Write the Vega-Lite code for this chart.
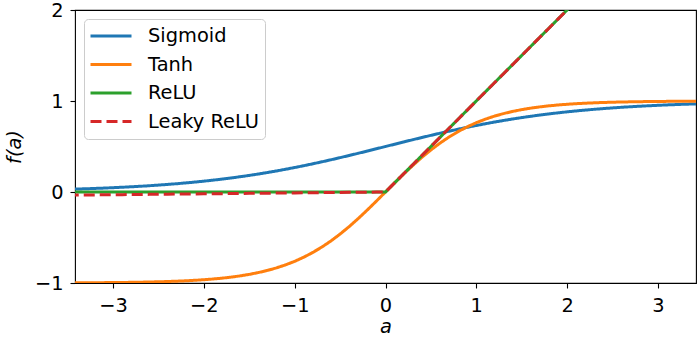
{
  "$schema": "https://vega.github.io/schema/vega-lite/v6.json",
  "width": 621,
  "height": 273,
  "autosize": {"type": "none"},
  "padding": {"left": 75, "top": 10, "right": 1, "bottom": 55},
  "background": "white",
  "config": {
    "font": "DejaVu Sans",
    "view": {"stroke": "black", "strokeWidth": 1.1},
    "axis": {
      "grid": false,
      "domain": false,
      "tickColor": "black",
      "tickSize": 5,
      "tickWidth": 1.1,
      "labelColor": "black",
      "labelFontSize": 19.4,
      "titleColor": "black",
      "titleFontSize": 19.4,
      "titleFontWeight": "normal",
      "titleFontStyle": "italic"
    },
    "legend": {
      "orient": "none",
      "legendX": 9,
      "legendY": 9,
      "padding": 5,
      "fillColor": "rgba(255,255,255,0.8)",
      "strokeColor": "#cccccc",
      "cornerRadius": 4,
      "labelFontSize": 19.4,
      "labelColor": "black",
      "labelOffset": 15,
      "symbolType": "stroke",
      "symbolSize": 1681,
      "symbolOffset": 0,
      "symbolStrokeWidth": 3,
      "clipHeight": 24,
      "rowPadding": 4.5
    }
  },
  "data": {
    "values": [
      {"a": -3.5, "Sigmoid": 0.02931, "Tanh": -0.99818, "ReLU": 0, "Leaky ReLU": -0.035},
      {"a": -3.4, "Sigmoid": 0.0323, "Tanh": -0.99777, "ReLU": 0, "Leaky ReLU": -0.034},
      {"a": -3.3, "Sigmoid": 0.03557, "Tanh": -0.99728, "ReLU": 0, "Leaky ReLU": -0.033},
      {"a": -3.2, "Sigmoid": 0.03917, "Tanh": -0.99668, "ReLU": 0, "Leaky ReLU": -0.032},
      {"a": -3.1, "Sigmoid": 0.04311, "Tanh": -0.99595, "ReLU": 0, "Leaky ReLU": -0.031},
      {"a": -3.0, "Sigmoid": 0.04743, "Tanh": -0.99505, "ReLU": 0, "Leaky ReLU": -0.03},
      {"a": -2.9, "Sigmoid": 0.05216, "Tanh": -0.99396, "ReLU": 0, "Leaky ReLU": -0.029},
      {"a": -2.8, "Sigmoid": 0.05733, "Tanh": -0.99263, "ReLU": 0, "Leaky ReLU": -0.028},
      {"a": -2.7, "Sigmoid": 0.06297, "Tanh": -0.99101, "ReLU": 0, "Leaky ReLU": -0.027},
      {"a": -2.6, "Sigmoid": 0.06914, "Tanh": -0.98903, "ReLU": 0, "Leaky ReLU": -0.026},
      {"a": -2.5, "Sigmoid": 0.07586, "Tanh": -0.98661, "ReLU": 0, "Leaky ReLU": -0.025},
      {"a": -2.4, "Sigmoid": 0.08317, "Tanh": -0.98367, "ReLU": 0, "Leaky ReLU": -0.024},
      {"a": -2.3, "Sigmoid": 0.09112, "Tanh": -0.9801, "ReLU": 0, "Leaky ReLU": -0.023},
      {"a": -2.2, "Sigmoid": 0.09975, "Tanh": -0.97574, "ReLU": 0, "Leaky ReLU": -0.022},
      {"a": -2.1, "Sigmoid": 0.1091, "Tanh": -0.97045, "ReLU": 0, "Leaky ReLU": -0.021},
      {"a": -2.0, "Sigmoid": 0.1192, "Tanh": -0.96403, "ReLU": 0, "Leaky ReLU": -0.02},
      {"a": -1.9, "Sigmoid": 0.13011, "Tanh": -0.95624, "ReLU": 0, "Leaky ReLU": -0.019},
      {"a": -1.8, "Sigmoid": 0.14185, "Tanh": -0.94681, "ReLU": 0, "Leaky ReLU": -0.018},
      {"a": -1.7, "Sigmoid": 0.15447, "Tanh": -0.93541, "ReLU": 0, "Leaky ReLU": -0.017},
      {"a": -1.6, "Sigmoid": 0.16798, "Tanh": -0.92167, "ReLU": 0, "Leaky ReLU": -0.016},
      {"a": -1.5, "Sigmoid": 0.18243, "Tanh": -0.90515, "ReLU": 0, "Leaky ReLU": -0.015},
      {"a": -1.4, "Sigmoid": 0.19782, "Tanh": -0.88535, "ReLU": 0, "Leaky ReLU": -0.014},
      {"a": -1.3, "Sigmoid": 0.21417, "Tanh": -0.86172, "ReLU": 0, "Leaky ReLU": -0.013},
      {"a": -1.2, "Sigmoid": 0.23148, "Tanh": -0.83365, "ReLU": 0, "Leaky ReLU": -0.012},
      {"a": -1.1, "Sigmoid": 0.24974, "Tanh": -0.8005, "ReLU": 0, "Leaky ReLU": -0.011},
      {"a": -1.0, "Sigmoid": 0.26894, "Tanh": -0.76159, "ReLU": 0, "Leaky ReLU": -0.01},
      {"a": -0.9, "Sigmoid": 0.28905, "Tanh": -0.7163, "ReLU": 0, "Leaky ReLU": -0.009},
      {"a": -0.8, "Sigmoid": 0.31003, "Tanh": -0.66404, "ReLU": 0, "Leaky ReLU": -0.008},
      {"a": -0.7, "Sigmoid": 0.33181, "Tanh": -0.60437, "ReLU": 0, "Leaky ReLU": -0.007},
      {"a": -0.6, "Sigmoid": 0.35434, "Tanh": -0.53705, "ReLU": 0, "Leaky ReLU": -0.006},
      {"a": -0.5, "Sigmoid": 0.37754, "Tanh": -0.46212, "ReLU": 0, "Leaky ReLU": -0.005},
      {"a": -0.4, "Sigmoid": 0.40131, "Tanh": -0.37995, "ReLU": 0, "Leaky ReLU": -0.004},
      {"a": -0.3, "Sigmoid": 0.42556, "Tanh": -0.29131, "ReLU": 0, "Leaky ReLU": -0.003},
      {"a": -0.2, "Sigmoid": 0.45017, "Tanh": -0.19738, "ReLU": 0, "Leaky ReLU": -0.002},
      {"a": -0.1, "Sigmoid": 0.47502, "Tanh": -0.09967, "ReLU": 0, "Leaky ReLU": -0.001},
      {"a": 0.0, "Sigmoid": 0.5, "Tanh": 0, "ReLU": 0, "Leaky ReLU": 0},
      {"a": 0.1, "Sigmoid": 0.52498, "Tanh": 0.09967, "ReLU": 0.1, "Leaky ReLU": 0.1},
      {"a": 0.2, "Sigmoid": 0.54983, "Tanh": 0.19738, "ReLU": 0.2, "Leaky ReLU": 0.2},
      {"a": 0.3, "Sigmoid": 0.57444, "Tanh": 0.29131, "ReLU": 0.3, "Leaky ReLU": 0.3},
      {"a": 0.4, "Sigmoid": 0.59869, "Tanh": 0.37995, "ReLU": 0.4, "Leaky ReLU": 0.4},
      {"a": 0.5, "Sigmoid": 0.62246, "Tanh": 0.46212, "ReLU": 0.5, "Leaky ReLU": 0.5},
      {"a": 0.6, "Sigmoid": 0.64566, "Tanh": 0.53705, "ReLU": 0.6, "Leaky ReLU": 0.6},
      {"a": 0.7, "Sigmoid": 0.66819, "Tanh": 0.60437, "ReLU": 0.7, "Leaky ReLU": 0.7},
      {"a": 0.8, "Sigmoid": 0.68997, "Tanh": 0.66404, "ReLU": 0.8, "Leaky ReLU": 0.8},
      {"a": 0.9, "Sigmoid": 0.71095, "Tanh": 0.7163, "ReLU": 0.9, "Leaky ReLU": 0.9},
      {"a": 1.0, "Sigmoid": 0.73106, "Tanh": 0.76159, "ReLU": 1.0, "Leaky ReLU": 1.0},
      {"a": 1.1, "Sigmoid": 0.75026, "Tanh": 0.8005, "ReLU": 1.1, "Leaky ReLU": 1.1},
      {"a": 1.2, "Sigmoid": 0.76852, "Tanh": 0.83365, "ReLU": 1.2, "Leaky ReLU": 1.2},
      {"a": 1.3, "Sigmoid": 0.78583, "Tanh": 0.86172, "ReLU": 1.3, "Leaky ReLU": 1.3},
      {"a": 1.4, "Sigmoid": 0.80218, "Tanh": 0.88535, "ReLU": 1.4, "Leaky ReLU": 1.4},
      {"a": 1.5, "Sigmoid": 0.81757, "Tanh": 0.90515, "ReLU": 1.5, "Leaky ReLU": 1.5},
      {"a": 1.6, "Sigmoid": 0.83202, "Tanh": 0.92167, "ReLU": 1.6, "Leaky ReLU": 1.6},
      {"a": 1.7, "Sigmoid": 0.84553, "Tanh": 0.93541, "ReLU": 1.7, "Leaky ReLU": 1.7},
      {"a": 1.8, "Sigmoid": 0.85815, "Tanh": 0.94681, "ReLU": 1.8, "Leaky ReLU": 1.8},
      {"a": 1.9, "Sigmoid": 0.86989, "Tanh": 0.95624, "ReLU": 1.9, "Leaky ReLU": 1.9},
      {"a": 2.0, "Sigmoid": 0.8808, "Tanh": 0.96403, "ReLU": 2.0, "Leaky ReLU": 2.0},
      {"a": 2.1, "Sigmoid": 0.8909, "Tanh": 0.97045, "ReLU": 2.1, "Leaky ReLU": 2.1},
      {"a": 2.2, "Sigmoid": 0.90025, "Tanh": 0.97574, "ReLU": 2.2, "Leaky ReLU": 2.2},
      {"a": 2.3, "Sigmoid": 0.90888, "Tanh": 0.9801, "ReLU": 2.3, "Leaky ReLU": 2.3},
      {"a": 2.4, "Sigmoid": 0.91683, "Tanh": 0.98367, "ReLU": 2.4, "Leaky ReLU": 2.4},
      {"a": 2.5, "Sigmoid": 0.92414, "Tanh": 0.98661, "ReLU": 2.5, "Leaky ReLU": 2.5},
      {"a": 2.6, "Sigmoid": 0.93086, "Tanh": 0.98903, "ReLU": 2.6, "Leaky ReLU": 2.6},
      {"a": 2.7, "Sigmoid": 0.93703, "Tanh": 0.99101, "ReLU": 2.7, "Leaky ReLU": 2.7},
      {"a": 2.8, "Sigmoid": 0.94267, "Tanh": 0.99263, "ReLU": 2.8, "Leaky ReLU": 2.8},
      {"a": 2.9, "Sigmoid": 0.94784, "Tanh": 0.99396, "ReLU": 2.9, "Leaky ReLU": 2.9},
      {"a": 3.0, "Sigmoid": 0.95257, "Tanh": 0.99505, "ReLU": 3.0, "Leaky ReLU": 3.0},
      {"a": 3.1, "Sigmoid": 0.95689, "Tanh": 0.99595, "ReLU": 3.1, "Leaky ReLU": 3.1},
      {"a": 3.2, "Sigmoid": 0.96083, "Tanh": 0.99668, "ReLU": 3.2, "Leaky ReLU": 3.2},
      {"a": 3.3, "Sigmoid": 0.96443, "Tanh": 0.99728, "ReLU": 3.3, "Leaky ReLU": 3.3},
      {"a": 3.4, "Sigmoid": 0.9677, "Tanh": 0.99777, "ReLU": 3.4, "Leaky ReLU": 3.4},
      {"a": 3.5, "Sigmoid": 0.97069, "Tanh": 0.99818, "ReLU": 3.5, "Leaky ReLU": 3.5}
    ]
  },
  "transform": [
    {"fold": ["Sigmoid", "Tanh", "ReLU", "Leaky ReLU"], "as": ["fn", "f"]}
  ],
  "mark": {"type": "line", "strokeWidth": 3, "clip": true},
  "encoding": {
    "x": {
      "field": "a",
      "type": "quantitative",
      "title": "a",
      "scale": {"domain": [-3.42, 3.42], "nice": false, "zero": false},
      "axis": {"values": [-3, -2, -1, 0, 1, 2, 3], "format": "d", "labelPadding": 8, "titlePadding": 3}
    },
    "y": {
      "field": "f",
      "type": "quantitative",
      "title": "f(a)",
      "scale": {"domain": [-1, 2], "nice": false, "zero": false},
      "axis": {"values": [-1, 0, 1, 2], "format": "d", "labelPadding": 7, "titlePadding": 10}
    },
    "color": {
      "field": "fn",
      "type": "nominal",
      "title": null,
      "scale": {
        "domain": ["Sigmoid", "Tanh", "ReLU", "Leaky ReLU"],
        "range": ["#1f77b4", "#ff7f0e", "#2ca02c", "#d62728"]
      }
    },
    "strokeDash": {
      "field": "fn",
      "type": "nominal",
      "title": null,
      "scale": {
        "domain": ["Sigmoid", "Tanh", "ReLU", "Leaky ReLU"],
        "range": [[1, 0], [1, 0], [1, 0], [11, 5]]
      }
    }
  }
}
